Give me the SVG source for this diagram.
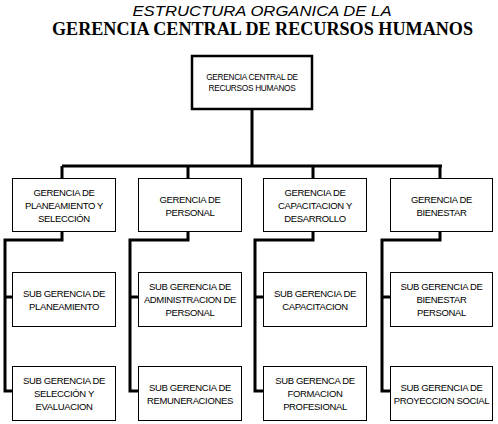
<svg xmlns="http://www.w3.org/2000/svg" width="498" height="424" viewBox="0 0 498 424">
<style>
.t{font-family:"Liberation Sans",Arial,sans-serif;font-size:9.5px;fill:#000;text-anchor:middle;letter-spacing:-0.35px}
.box{fill:#fff;stroke:#000;stroke-width:1}
.main{fill:#fff;stroke:#000;stroke-width:2.5}
.ln{stroke:#000;stroke-width:3;fill:none}
</style>
<rect width="498" height="424" fill="#fff"/>
<text x="262" y="15.5" font-family="Liberation Sans,Arial,sans-serif" font-style="italic" font-size="15.5" text-anchor="middle" textLength="259" lengthAdjust="spacingAndGlyphs">ESTRUCTURA ORGANICA DE LA</text>
<text x="262.5" y="35" font-family="Liberation Serif,Times New Roman,serif" font-weight="bold" font-size="18" text-anchor="middle" textLength="421" lengthAdjust="spacingAndGlyphs">GERENCIA CENTRAL DE RECURSOS HUMANOS</text>
<g id="connectors">
<path class="ln" d="M252 109V166M62 166H442M62 166V178M188 166V178M313 166V178M440 166V178"/>
<path class="ln" d="M62 231V240H5V391H12M5 297H12"/>
<path class="ln" d="M188 231V240H130V391H138M130 297H138"/>
<path class="ln" d="M313 231V240H255V391H263M255 297H263"/>
<path class="ln" d="M440 231V240H382V391H390M382 297H390"/>
</g>
<g id="top"><rect class="main" x="192" y="56" width="120" height="53"/>
<text class="t" style="font-size:8.3px;letter-spacing:-0.3px" x="252" y="80">GERENCIA CENTRAL DE</text><text class="t" style="font-size:8.3px;letter-spacing:-0.3px" x="252" y="91">RECURSOS HUMANOS</text></g>
<g id="g1"><rect class="box" x="12.5" y="178.5" width="103" height="53"/>
<text class="t" x="64" y="195.5">GERENCIA DE</text><text class="t" x="64" y="208.5">PLANEAMIENTO Y</text><text class="t" x="64" y="221.5">SELECCIÓN</text></g>
<g id="g2"><rect class="box" x="138.5" y="178.5" width="103" height="53"/>
<text class="t" x="190" y="202.5">GERENCIA DE</text><text class="t" x="190" y="215.5">PERSONAL</text></g>
<g id="g3"><rect class="box" x="263.5" y="178.5" width="103" height="53"/>
<text class="t" x="315" y="195.5">GERENCIA DE</text><text class="t" x="315" y="208.5">CAPACITACION Y</text><text class="t" x="315" y="221.5">DESARROLLO</text></g>
<g id="g4"><rect class="box" x="390.5" y="178.5" width="102" height="53"/>
<text class="t" x="441.5" y="202.5">GERENCIA DE</text><text class="t" x="441.5" y="215.5">BIENESTAR</text></g>
<g id="s11"><rect class="box" x="12.5" y="272.5" width="103" height="54"/>
<text class="t" x="64" y="296.5">SUB GERENCIA DE</text><text class="t" x="64" y="309.5">PLANEAMIENTO</text></g>
<g id="s12"><rect class="box" x="12.5" y="366.5" width="103" height="54"/>
<text class="t" x="64" y="383.5">SUB GERENCIA DE</text><text class="t" x="64" y="396.5">SELECCIÓN Y</text><text class="t" x="64" y="409.5">EVALUACION</text></g>
<g id="s21"><rect class="box" x="138.5" y="272.5" width="103" height="54"/>
<text class="t" x="190" y="289.5">SUB GERENCIA DE</text><text class="t" x="190" y="302.5">ADMINISTRACION DE</text><text class="t" x="190" y="316">PERSONAL</text></g>
<g id="s22"><rect class="box" x="138.5" y="366.5" width="103" height="54"/>
<text class="t" x="190" y="390.5">SUB GERENCIA DE</text><text class="t" x="190" y="403.5">REMUNERACIONES</text></g>
<g id="s31"><rect class="box" x="263.5" y="272.5" width="103" height="54"/>
<text class="t" x="315" y="296.5">SUB GERENCIA DE</text><text class="t" x="315" y="309.5">CAPACITACION</text></g>
<g id="s32"><rect class="box" x="263.5" y="366.5" width="103" height="54"/>
<text class="t" x="315" y="383.5">SUB GERENCA DE</text><text class="t" x="315" y="396.5">FORMACION</text><text class="t" x="315" y="409.5">PROFESIONAL</text></g>
<g id="s41"><rect class="box" x="390.5" y="272.5" width="102" height="54"/>
<text class="t" x="441.5" y="289.5">SUB GERENCIA DE</text><text class="t" x="441.5" y="302.5">BIENESTAR</text><text class="t" x="441.5" y="316">PERSONAL</text></g>
<g id="s42"><rect class="box" x="390.5" y="366.5" width="102" height="54"/>
<text class="t" x="441.5" y="390.5">SUB GERENCIA DE</text><text class="t" x="441.5" y="403.5">PROYECCION SOCIAL</text></g>
</svg>
